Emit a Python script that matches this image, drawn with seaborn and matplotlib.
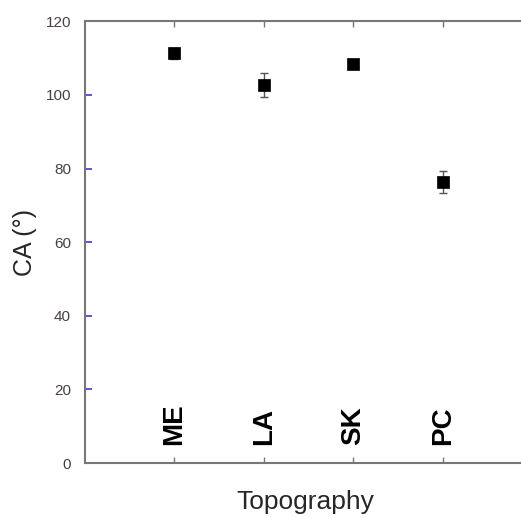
import matplotlib
matplotlib.use("Agg")
import matplotlib.pyplot as plt
import pandas as pd
import seaborn as sns

# Data
categories = ["ME", "LA", "SK", "PC"]
ca_mean = [111.3, 102.6, 108.3, 76.3]
ca_err = [1.5, 3.3, 0.6, 3.0]
y_ticks = [0, 20, 40, 60, 80, 100, 120]

df = pd.DataFrame({"pos": range(1, len(categories) + 1),
                   "cat": categories, "ca": ca_mean, "err": ca_err})

sns.set_style("white")
plt.rcParams["font.family"] = ["Liberation Sans", "DejaVu Sans"]

fig = plt.figure(figsize=(5.21, 5.18), dpi=100)
ax = fig.add_axes([0.163, 0.106, 0.845, 0.853])

# error bars first, then the square markers on top
ax.errorbar(df["pos"], df["ca"], yerr=df["err"], fmt="none",
            ecolor="#555555", elinewidth=1, capsize=3, capthick=1, zorder=2)
sns.scatterplot(data=df, x="pos", y="ca", marker="s", s=75, color="black",
                edgecolor="black", linewidth=0.5, ax=ax, zorder=3, legend=False)

# category names written inside the plot
for _, row in df.iterrows():
    ax.text(row["pos"], 5, row["cat"], rotation=90, ha="center", va="bottom",
            fontsize=20, fontweight="bold", color="black")

ax.set_xlim(0, 4.92)
ax.set_ylim(0, 120)
ax.set_yticks(y_ticks)
ax.set_xticks(df["pos"])
ax.set_xticklabels([])

ax.tick_params(axis="y", direction="in", length=5, width=1.2, color="#3a3ad0",
               left=True, labelsize=11, labelcolor="#4a4040", pad=10)
ax.tick_params(axis="x", direction="in", length=4, width=1, color="#777777",
               top=True, bottom=True)

for side in ["left", "bottom", "top"]:
    ax.spines[side].set_color("#777777")
    ax.spines[side].set_linewidth(1.5)
ax.spines["right"].set_visible(False)

ax.set_xlabel("Topography", fontsize=19, labelpad=16)
ax.set_ylabel("CA (°)", fontsize=18, labelpad=6)

fig.savefig("out.png", dpi=100)
